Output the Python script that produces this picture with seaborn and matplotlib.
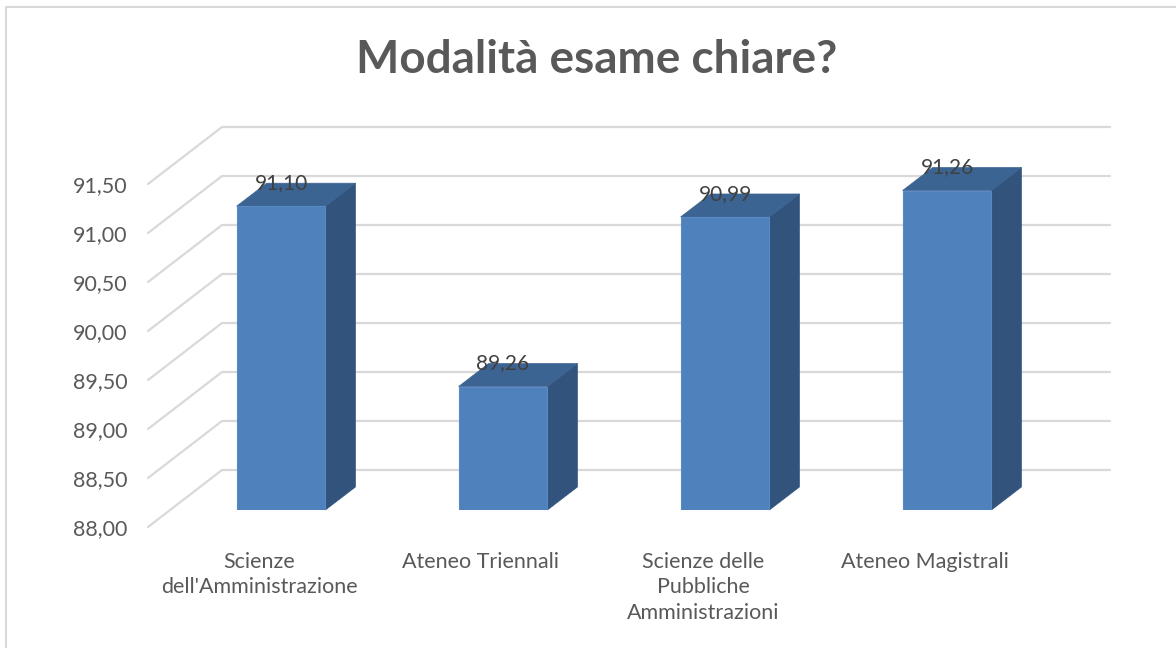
import numpy as np
import pandas as pd
import matplotlib
matplotlib.use("Agg")
import matplotlib.pyplot as plt
import seaborn as sns
from matplotlib.patches import Polygon
from matplotlib.lines import Line2D
from matplotlib.transforms import ScaledTranslation

# ---------------- data ----------------
categories = ["Scienze\ndell'Amministrazione", "Ateneo Triennali",
              "Scienze delle\nPubbliche\nAmministrazioni", "Ateneo Magistrali"]
values = [91.10, 89.26, 90.99, 91.26]
yticks = [88.0, 88.5, 89.0, 89.5, 90.0, 90.5, 91.0, 91.5]
ytick_labels = ["88,00", "88,50", "89,00", "89,50", "90,00", "90,50", "91,00", "91,50"]
title = "Modalità esame chiare?"

# ---------------- style ----------------
W, H, DPI = 1176, 648, 100
FRONT = "#4F81BD"
SIDE = "#31537C"
TOP = "#3C6492"
EDGE = "#5A8AC4"
GRID = "#D9D9D9"
TXT = "#595959"
VAL = "#404040"

# pixel offsets (x right, y down) of the 3D projection relative to the bar plane
FRONT_OFF = (-22, 17)
BACK_OFF = (52, -40)
BAR_DEPTH = (30, -23)

sns.set_theme(style="white")
plt.rcParams['font.family'] = ['Lato', 'DejaVu Sans']

fig = plt.figure(figsize=(W / DPI, H / DPI), dpi=DPI)
fig.patch.set_facecolor("white")
ax = fig.add_axes([170 / W, (H - 510) / H, 888 / W, 343 / H])
ax.patch.set_visible(False)

df = pd.DataFrame({"cat": categories, "val": values})
sns.barplot(data=df, x="cat", y="val", color=FRONT, saturation=1, width=0.4,
            ax=ax, zorder=3, edgecolor=EDGE, linewidth=0.8)
ax.set_xlim(-0.5, len(categories) - 0.5)
ax.set_ylim(yticks[0], yticks[-1])
for s in ax.spines.values():
    s.set_visible(False)
ax.set_xlabel("")
ax.set_ylabel("")

# pixel -> data scale
x0d, y0d = ax.transData.transform((0, 0))
x1d, y1d = ax.transData.transform((1, 1))
sx, sy = (x1d - x0d), (y1d - y0d)


def off(p):
    return p[0] / sx, -p[1] / sy


fx, fy = off(FRONT_OFF)
bx, by = off(BACK_OFF)
ddx, ddy = off(BAR_DEPTH)
xmin, xmax = ax.get_xlim()
ybase = yticks[0]

# gridlines: side wall diagonal + back wall horizontal
for t in yticks:
    ln = Line2D([xmin + fx, xmin + bx, xmax + bx], [t + fy, t + by, t + by],
                color=GRID, lw=1.6, zorder=0, clip_on=False)
    ax.add_line(ln)
    ln.set_clip_on(False)

# 3D faces for each bar
for patch, v in zip(ax.patches, values):
    px = patch.get_x()
    pw = patch.get_width()
    side = Polygon([(px + pw, ybase), (px + pw, v), (px + pw + ddx, v + ddy),
                    (px + pw + ddx, ybase + ddy)], closed=True,
                   facecolor=SIDE, edgecolor=SIDE, lw=0.5, zorder=2, clip_on=False)
    top = Polygon([(px, v), (px + pw, v), (px + pw + ddx, v + ddy), (px + ddx, v + ddy)],
                  closed=True, facecolor=TOP, edgecolor=TOP, lw=0.5, zorder=2.5, clip_on=False)
    ax.add_patch(side)
    ax.add_patch(top)
    ax.text(px + pw / 2, v + ddy, f"{v:.2f}".replace(".", ","), ha="center", va="center",
            fontsize=15, color=VAL, zorder=5, clip_on=False)

# tick labels
ax.set_yticks(yticks, ytick_labels)
ax.tick_params(axis="y", length=0, pad=15, labelsize=15.5, labelcolor=TXT)
ax.tick_params(axis="x", length=0, pad=18, labelsize=15.5, labelcolor=TXT)
ax.set_xticks(range(len(categories)), categories)
for lab in ax.get_yticklabels():
    lab.set_transform(lab.get_transform() + ScaledTranslation(FRONT_OFF[0] / DPI, -FRONT_OFF[1] / DPI, fig.dpi_scale_trans))
for lab in ax.get_xticklabels():
    lab.set_transform(lab.get_transform() + ScaledTranslation(FRONT_OFF[0] / DPI, -FRONT_OFF[1] / DPI, fig.dpi_scale_trans))
    lab.set_linespacing(1.33)

# title
fig.text(597 / W, 1 - 60 / H, title, ha="center", va="center", fontsize=33,
         fontweight="bold", color=TXT)

# chart frame (left and top edges visible)
fig.add_artist(Line2D([6 / W, 6 / W, 1.0], [0.0, 1 - 7 / H, 1 - 7 / H],
                      transform=fig.transFigure, color=GRID, lw=1.5))

fig.savefig("out.png", dpi=DPI, facecolor="white")
